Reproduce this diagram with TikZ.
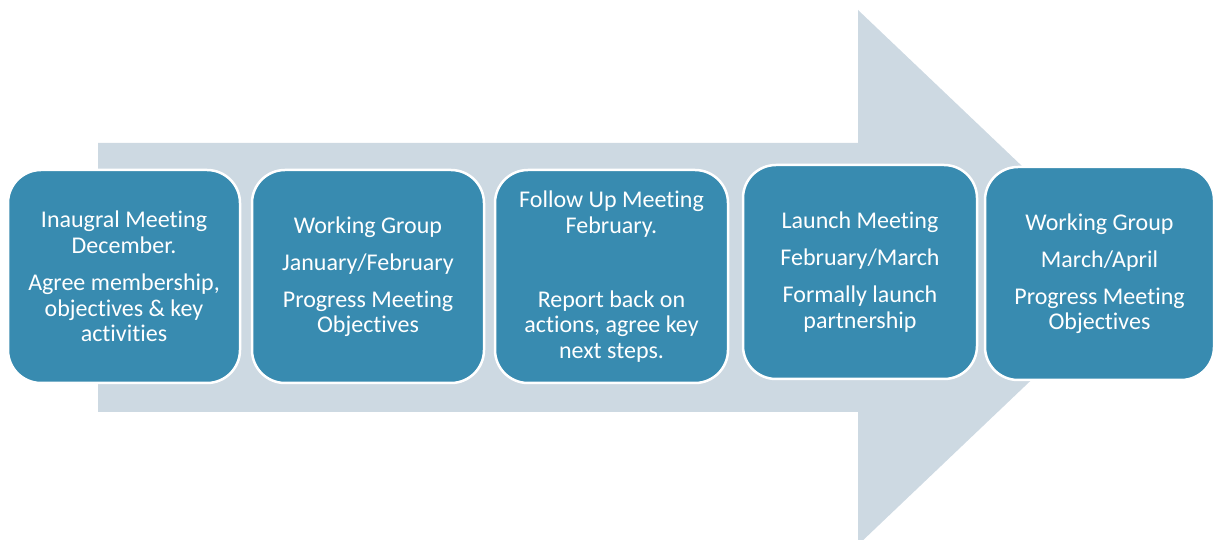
\documentclass[tikz,border=0pt]{standalone}
\usepackage{fontspec}
\setmainfont{Carlito}[Ligatures=NoCommon]
\definecolor{stagefill}{HTML}{388BB0}
\definecolor{arrowfill}{HTML}{CDD9E2}
\begin{document}
\begin{tikzpicture}[x=1pt,y=1pt,
  stagebox/.style={draw=white, line width=2.5pt, fill=stagefill, rounded corners=33pt,
    inner sep=0pt, align=center, text=white,
    font=\fontsize{24}{25.5}\selectfont}]
\useasboundingbox (0,0) rectangle (1214,540);
\clip (0,0) rectangle (1214,540);
% background block arrow
\fill[arrowfill] (98,397) -- (858,397) -- (858,530) -- (1139,262.5)
  -- (858,-5) -- (858,128) -- (98,128) -- cycle;
% stages
\node[stagebox, minimum width=232pt, minimum height=213pt] (s1) at (124,263.5)
  {Inaugral Meeting\\December.\\[12pt]Agree membership,\\objectives \& key\\activities};
\node[stagebox, minimum width=232pt, minimum height=213pt] (s2) at (368,263.5)
  {Working Group\\[11.5pt]January/February\\[11.5pt]Progress Meeting\\Objectives};
\node[stagebox, minimum width=233pt, minimum height=213pt] (s3) at (611.5,263.5)
  {Follow Up Meeting\\February.\\[48.5pt]Report back on\\actions, agree key\\next steps.};
\node[stagebox, minimum width=234pt, minimum height=214pt] (s4) at (860,268)
  {Launch Meeting\\[11.5pt]February/March\\[11.5pt]Formally launch\\partnership};
\node[stagebox, minimum width=229pt, minimum height=213pt] (s5) at (1099.5,266.5)
  {Working Group\\[11.5pt]March/April\\[11.5pt]Progress Meeting\\Objectives};
\end{tikzpicture}
\end{document}
